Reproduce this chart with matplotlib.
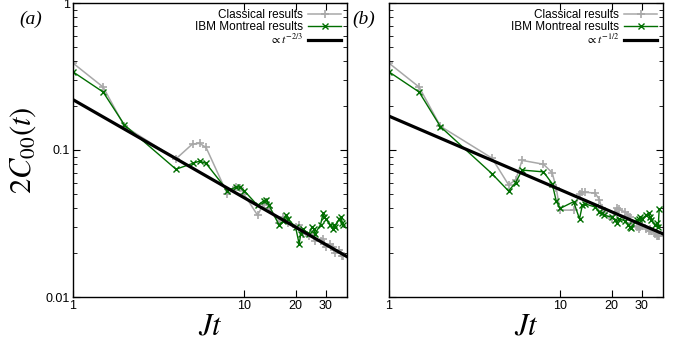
import matplotlib
matplotlib.use('Agg')
import matplotlib.pyplot as plt
import matplotlib.ticker as mticker
import numpy as np

plt.rcParams['font.family'] = ['Liberation Sans', 'DejaVu Sans']
plt.rcParams['mathtext.fontset'] = 'stix'

# time points (Jt)
t = [1, 1.5, 2, 4, 5, 5.5, 6, 8, 9, 9.5, 10, 12, 13, 13.5, 14, 16, 17, 17.5, 18,
     20, 21, 21.5, 22, 24, 25, 25.5, 26, 28, 29, 29.5, 30, 32, 33, 33.5, 34,
     36, 37, 37.5, 38]

# panel (a)
classical_a = [0.39, 0.268, 0.145, 0.087, 0.110, 0.111, 0.104, 0.050, 0.056, 0.055, 0.050,
               0.036, 0.043, 0.044, 0.040, 0.032, 0.035, 0.034, 0.032,
               0.030, 0.031, 0.029, 0.027, 0.026, 0.027, 0.026, 0.024,
               0.024, 0.025, 0.023, 0.022, 0.023, 0.022, 0.021, 0.020,
               0.021, 0.020, 0.019, 0.019]
ibm_a = [0.34, 0.248, 0.148, 0.074, 0.081, 0.084, 0.081, 0.053, 0.056, 0.056, 0.053,
         0.042, 0.045, 0.046, 0.042, 0.031, 0.033, 0.036, 0.034,
         0.030, 0.023, 0.027, 0.029, 0.027, 0.030, 0.029, 0.027,
         0.031, 0.037, 0.035, 0.034, 0.031, 0.029, 0.031, 0.030,
         0.034, 0.035, 0.032, 0.031]

# panel (b)
classical_b = [0.39, 0.268, 0.145, 0.088, 0.058, 0.0625, 0.085, 0.080, 0.070, 0.055, 0.039,
               0.039, 0.050, 0.052, 0.0515, 0.051, 0.046, 0.040, 0.037,
               0.034, 0.038, 0.040, 0.0394, 0.038, 0.036, 0.035, 0.032,
               0.030, 0.029, 0.030, 0.031, 0.029, 0.028, 0.029, 0.028,
               0.027, 0.026, 0.0259, 0.026]
ibm_b = [0.34, 0.248, 0.144, 0.069, 0.0526, 0.060, 0.073, 0.071, 0.059, 0.045, 0.040,
         0.0445, 0.034, 0.042, 0.043, 0.041, 0.038, 0.037, 0.036,
         0.035, 0.0334, 0.0317, 0.034, 0.033, 0.031, 0.030, 0.0293,
         0.0334, 0.034, 0.0352, 0.034, 0.036, 0.0375, 0.035, 0.0334,
         0.031, 0.032, 0.030, 0.0394]

# power laws
amp_a, exp_a = 0.22, -2.0 / 3.0
amp_b, exp_b = 0.17, -0.5
t_fit = np.array([1, 40])

fig = plt.figure(figsize=(6.89, 3.49), dpi=100)
ax1 = fig.add_axes([73 / 689, 52 / 349, 274 / 689, 294 / 349])
ax2 = fig.add_axes([389 / 689, 52 / 349, 274 / 689, 294 / 349])

gray = '#a8a8a8'
green = '#006e00'

panels = [(ax1, classical_a, ibm_a, amp_a, exp_a, r'$\propto t^{-2/3}$', '(a)', 19),
          (ax2, classical_b, ibm_b, amp_b, exp_b, r'$\propto t^{-1/2}$', '(b)', 352)]

for ax, cl, ibm, amp, ex, lab, panel, px in panels:
    ax.plot(t, cl, color=gray, lw=1.1, marker='+', ms=6, mew=1.2, label='Classical results')
    ax.plot(t, ibm, color=green, lw=1.0, marker='x', ms=4.5, mew=1.0, label='IBM Montreal results')
    ax.plot(t_fit, amp * t_fit ** ex, color='black', lw=2.3, label=lab)
    ax.set_xscale('log')
    ax.set_yscale('log')
    ax.set_xlim(1, 40)
    ax.set_ylim(0.01, 1)
    ax.xaxis.set_major_locator(mticker.FixedLocator([1, 10, 20, 30]))
    ax.xaxis.set_major_formatter(mticker.FixedFormatter(['1', '10', '20', '30']))
    ax.xaxis.set_minor_locator(mticker.NullLocator())
    ax.yaxis.set_major_locator(mticker.FixedLocator([0.01, 0.1, 1]))
    ax.yaxis.set_minor_locator(mticker.LogLocator(base=10, subs=np.arange(2, 10), numticks=10))
    ax.yaxis.set_minor_formatter(mticker.NullFormatter())
    ax.tick_params(which='both', direction='in', top=True, right=True, labelsize=9, pad=2)
    ax.tick_params(which='major', length=5, width=0.8)
    ax.tick_params(which='minor', length=3, width=0.6)
    for s in ax.spines.values():
        s.set_linewidth(1.0)
    ax.set_xlabel(r'$Jt$', fontsize=22, labelpad=0)
    ax.legend(loc='upper right', frameon=False, markerfirst=False, fontsize=8.5,
              handlelength=2.8, handletextpad=0.4, labelspacing=0.0,
              borderaxespad=0.3, borderpad=0.2)
    fig.text(px / 689, 1 - 19 / 349, panel, fontsize=14, family='Liberation Serif',
             style='italic', va='center', ha='left')

ax1.yaxis.set_major_formatter(mticker.FixedFormatter(['0.01', '0.1', '1']))
ax2.yaxis.set_major_formatter(mticker.NullFormatter())
ax1.set_ylabel(r'$2C_{00}(t)$', fontsize=22, labelpad=6)

fig.savefig('out.png', dpi=100)
